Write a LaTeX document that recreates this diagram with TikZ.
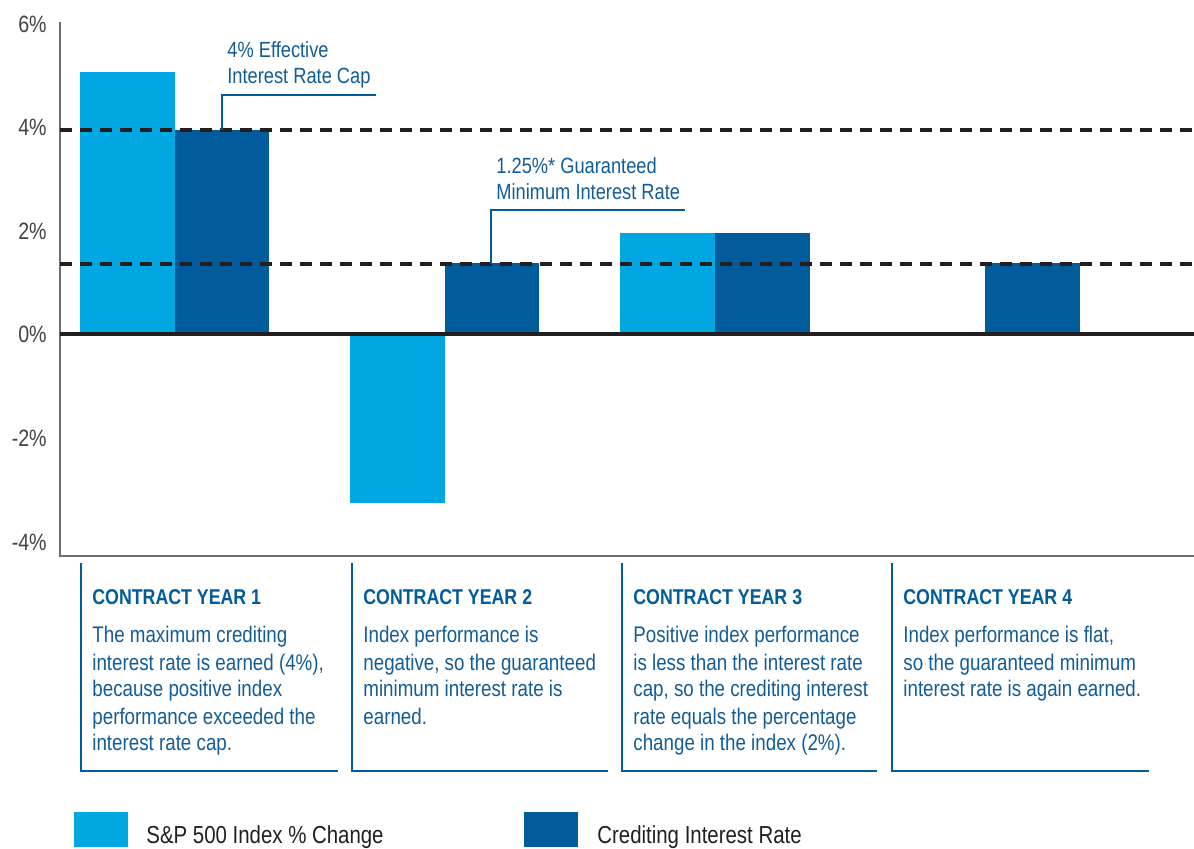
\documentclass[tikz,border=0pt]{standalone}
\usepackage{fontspec}
\setmainfont{Liberation Sans}[FakeStretch=0.83]
\definecolor{lightb}{RGB}{0,167,224}
\definecolor{darkb}{RGB}{0,92,154}
\definecolor{txtb}{RGB}{18,92,152}
\definecolor{axisg}{RGB}{110,110,112}
\definecolor{ink}{RGB}{35,31,32}
\begin{document}
\begin{tikzpicture}[x=0.5pt,y=-0.5pt,
  lbar/.style={fill=lightb},
  dbar/.style={fill=darkb},
  ticklab/.style={anchor=base east,inner sep=0,font=\fontsize{11.8}{13}\selectfont,text=ink!85},
  gridline/.style={draw=ink,line width=2pt,dash pattern=on 6pt off 4pt},
  callout/.style={draw=darkb,line width=1.1pt},
  calltext/.style={anchor=base west,inner sep=0,font=\fontsize{11}{13}\selectfont,text=txtb},
  boxline/.style={draw=darkb,line width=1.3pt},
  boxtitle/.style={anchor=base west,inner sep=0,font=\bfseries\fontsize{10.7}{13}\selectfont,text=darkb},
  boxbody/.style={anchor=base west,inner sep=0,font=\fontsize{11.3}{13.5}\selectfont,text=txtb},
  legtext/.style={anchor=base west,inner sep=0,font=\fontsize{12.3}{15}\selectfont,text=ink}
]
\useasboundingbox (0,0) rectangle (1194,849);

% axis tick labels
\node[ticklab] (t6) at (47,32.5) {6\%};
\node[ticklab] (t4) at (47,136) {4\%};
\node[ticklab] (t2) at (47,240) {2\%};
\node[ticklab] (t0) at (47,343) {0\%};
\node[ticklab] (tm2) at (47,447) {-2\%};
\node[ticklab] (tm4) at (47,551) {-4\%};

% bars
\fill[lbar] (80,72) rectangle (175,334);
\fill[dbar] (174.5,130) rectangle (269,334);
\fill[lbar] (350,334) rectangle (445,503);
\fill[dbar] (444.5,263) rectangle (539,334);
\fill[lbar] (620,233) rectangle (715,334);
\fill[dbar] (714.5,233) rectangle (810,334);
\fill[dbar] (985,263) rectangle (1080,334);

% axes
\draw[axisg,line width=1pt] (60,22) -- (60,556) -- (1194,556);
\draw[gridline] (60,130) -- (1194,130);
\draw[gridline] (60,264) -- (1194,264);
\draw[ink,line width=2.4pt] (60,334) -- (1194,334);

% callouts
\coordinate (c1a) at (222,130);
\coordinate (c1b) at (222,95);
\coordinate (c1c) at (376,95);
\draw[callout] (c1a) -- (c1b) -- (c1c);
\node[calltext] (cap) at (227,58) {\parbox[t]{150pt}{\raggedright 4\% Effective\\Interest Rate Cap}};
\coordinate (c2a) at (491,264);
\coordinate (c2b) at (491,210);
\coordinate (c2c) at (685,210);
\draw[callout] (c2a) -- (c2b) -- (c2c);
\node[calltext] (gmin) at (496,174) {\parbox[t]{150pt}{\raggedright 1.25\%* Guaranteed\\Minimum Interest Rate}};

% contract year boxes
\draw[boxline] (81,563) -- (81,771) -- (338,771);
\draw[boxline] (352,563) -- (352,771) -- (608,771);
\draw[boxline] (622,563) -- (622,771) -- (877,771);
\draw[boxline] (892,563) -- (892,771) -- (1149,771);

\node[boxtitle] (y1t) at (92,604) {CONTRACT YEAR 1};
\node[boxtitle] (y2t) at (363,604) {CONTRACT YEAR 2};
\node[boxtitle] (y3t) at (633,604) {CONTRACT YEAR 3};
\node[boxtitle] (y4t) at (903,604) {CONTRACT YEAR 4};

\node[boxbody] (y1b) at (92,643) {\parbox[t]{125pt}{\raggedright The maximum crediting\\interest rate is earned (4\%),\\because positive index\\performance exceeded the\\interest rate cap.}};
\node[boxbody] (y2b) at (363,643) {\parbox[t]{125pt}{\raggedright Index performance is\\negative, so the guaranteed\\minimum interest rate is\\earned.}};
\node[boxbody] (y3b) at (633,643) {\parbox[t]{125pt}{\raggedright Positive index performance\\is less than the interest rate\\cap, so the crediting interest\\rate equals the percentage\\change in the index (2\%).}};
\node[boxbody] (y4b) at (903,643) {\parbox[t]{125pt}{\raggedright Index performance is flat,\\so the guaranteed minimum\\interest rate is again earned.}};

% legend
\fill[lbar] (74,812) rectangle (128,847);
\node[legtext] (l1) at (146,843) {S\&P 500 Index \% Change};
\fill[dbar] (524,812) rectangle (578,847);
\node[legtext] (l2) at (597,843) {Crediting Interest Rate};
\end{tikzpicture}
\end{document}
